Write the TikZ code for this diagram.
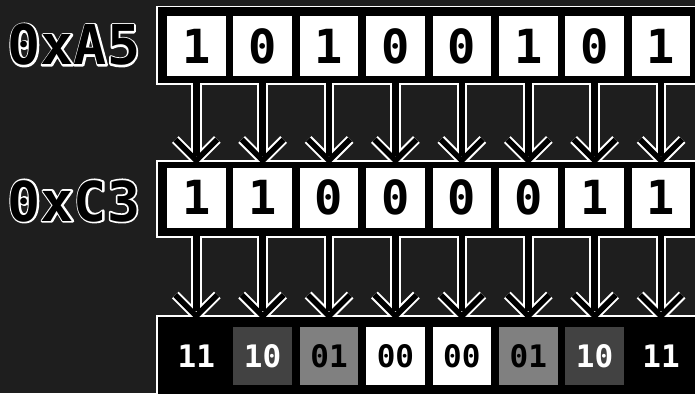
\documentclass[tikz,border=0pt]{standalone}
\usepackage{fontspec}
\setmonofont{DejaVu Sans Mono}
\usetikzlibrary{calc}
\definecolor{bg}{RGB}{30,30,30}
\definecolor{dgray}{RGB}{66,66,66}
\definecolor{mgray}{RGB}{128,128,128}
\newcommand\bitfont{\ttfamily\bfseries\fontsize{47}{47}\selectfont}
\newcommand\cellfont{\ttfamily\bfseries\fontsize{31}{31}\selectfont}
\newcommand\lblfont{\ttfamily\bfseries\fontsize{55}{55}\selectfont}
% white stroked text (PDF text render mode 1), used under the black label
\newcommand\strokedtext[1]{\special{pdf:literal direct 1 Tr 1 G 3.4 w 1 j}#1\special{pdf:literal direct 0 Tr 0 G}}
\pgfdeclarelayer{bgl}
\pgfdeclarelayer{wl}
\pgfdeclarelayer{kl}
\pgfsetlayers{bgl,wl,kl,main}
\begin{document}
\begin{tikzpicture}[x=1pt,y=-1pt,
  bit/.style={fill=white,text=black,minimum width=58.5pt,minimum height=60pt,inner sep=0pt,font=\bitfont},
  cell/.style={minimum width=58.5pt,minimum height=58pt,inner sep=0pt,font=\cellfont},
  hexlbl/.style={inner sep=0pt,anchor=base,font=\lblfont,text=black},
  bandw/.style={white,line width=3.5pt},
  bandk/.style={fill=black},
  shaftw/.style={white,line width=10.5pt},
  shaftk/.style={black,line width=6.5pt},
  wingw/.style={white,line width=9.5pt,miter limit=10},
  wingk/.style={black,line width=5.5pt,miter limit=10}]
\useasboundingbox (0,0) rectangle (695,393);
\clip (0,0) rectangle (695,393);
\begin{pgfonlayer}{bgl}
  \fill[bg] (0,0) rectangle (695,393);
\end{pgfonlayer}
% level coordinates
\coordinate (s1) at (0,79);
\coordinate (e1) at (0,156);
\coordinate (tip1) at (0,160.5);
\coordinate (s2) at (0,231);
\coordinate (e2) at (0,311);
\coordinate (tip2) at (0,316);
% bit boxes
\foreach \v [count=\i from 0] in {1,0,1,0,0,1,0,1}
  \node[bit] (t\i) at ({196.25+66.4*\i},46) {\v};
\foreach \v [count=\i from 0] in {1,1,0,0,0,0,1,1}
  \node[bit] (m\i) at ({196.25+66.4*\i},197.5) {\v};
\foreach \txt/\f/\c [count=\i from 0] in {11/black/white,10/dgray/white,01/mgray/black,00/white/black,00/white/black,01/mgray/black,10/dgray/white,11/black/white}
  \node[cell,fill=\f,text=\c] (b\i) at ({196.25+66.4*\i},356) {\txt};
% bands and arrows: white outline layer
\begin{pgfonlayer}{wl}
  \draw[bandw] (158,7.5) rectangle (740,83);
  \draw[bandw] (158,161.5) rectangle (740,236);
  \draw[bandw] (158,317) rectangle (740,420);
  \foreach \i in {0,...,7} {
    \draw[shaftw] (t\i.south |- s1) -- (m\i.north |- e1);
    \draw[wingw] ($(m\i.north |- tip1)+(-21,-21)$) -- (m\i.north |- tip1) -- ($(m\i.north |- tip1)+(21,-21)$);
    \draw[shaftw] (m\i.south |- s2) -- (b\i.north |- e2);
    \draw[wingw] ($(b\i.north |- tip2)+(-21,-21)$) -- (b\i.north |- tip2) -- ($(b\i.north |- tip2)+(21,-21)$);
  }
  % white outlines of the hex labels
  \node[hexlbl] (lao) at (74,65) {\strokedtext{0xA5}};
  \node[hexlbl] (lco) at (74,221) {\strokedtext{0xC3}};
\end{pgfonlayer}
% bands and arrows: black inner layer
\begin{pgfonlayer}{kl}
  \fill[bandk] (158,7.5) rectangle (740,83);
  \fill[bandk] (158,161.5) rectangle (740,236);
  \fill[bandk] (158,317) rectangle (740,420);
  \foreach \i in {0,...,7} {
    \draw[shaftk] (t\i.south |- s1) -- (m\i.north |- e1);
    \draw[wingk] ($(m\i.north |- tip1)+(-21,-21)$) -- (m\i.north |- tip1) -- ($(m\i.north |- tip1)+(21,-21)$);
    \draw[shaftk] (m\i.south |- s2) -- (b\i.north |- e2);
    \draw[wingk] ($(b\i.north |- tip2)+(-21,-21)$) -- (b\i.north |- tip2) -- ($(b\i.north |- tip2)+(21,-21)$);
  }
\end{pgfonlayer}
% hex labels (black fill over the white outline)
\node[hexlbl] (la) at (lao.base) {0xA5};
\node[hexlbl] (lc) at (lco.base) {0xC3};
\end{tikzpicture}
\end{document}
